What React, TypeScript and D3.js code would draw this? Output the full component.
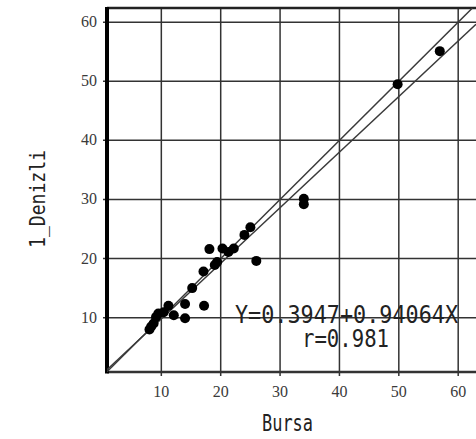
import React from "react";
import * as d3 from "d3";

// Paired observations (Bursa vs 1_Denizli)
const bursa = [8.0, 8.3, 8.7, 9.1, 9.5, 10.4, 11.2, 12.1, 14.0, 14.0, 17.2, 15.2, 17.1, 19.0, 19.4, 18.1, 20.3, 21.3, 22.2, 24.0, 25.0, 26.0, 34.0, 34.0, 49.8, 56.9];
const denizli = [8.0, 8.5, 9.0, 10.1, 10.7, 10.9, 12.0, 10.4, 9.9, 12.3, 12.0, 15.0, 17.8, 18.9, 19.4, 21.6, 21.7, 21.1, 21.7, 24.0, 25.3, 19.6, 30.1, 29.2, 49.5, 55.1];

const xTicks = [10, 20, 30, 40, 50, 60];
const yTicks = [10, 20, 30, 40, 50, 60];

const intercept = 0.3947;
const slope = 0.94064;
const equationLabel = "Y=0.3947+0.94064X";
const rLabel = "r=0.981";
const xTitle = "Bursa";
const yTitle = "1_Denizli";

const W = 476;
const H = 439;
const left = 107;
const right = 476;
const top = 8;
const bottom = 372;

export default function App() {
  const x = d3.scaleLinear().domain([0.85, 63]).range([left, right]);
  const y = d3.scaleLinear().domain([0.8, 62.4]).range([bottom, top]);
  const [x0, x1] = x.domain();

  const line = d3
    .line<[number, number]>()
    .x((d) => x(d[0]))
    .y((d) => y(d[1]));

  const identity: [number, number][] = [
    [x0, x0],
    [62.4, 62.4],
  ];
  const regression: [number, number][] = [
    [x0, intercept + slope * x0],
    [x1, intercept + slope * x1],
  ];

  const mono = "'DejaVu Sans Mono', monospace";
  const ink = "#222";

  return (
    <svg
      width={W}
      height={H}
      style={{ position: "absolute", left: 0, top: 0, background: "#fff" }}
    >
      <defs>
        <clipPath id="plot">
          <rect x={left} y={top} width={right - left} height={bottom - top} />
        </clipPath>
      </defs>

      {/* grid + ticks */}
      {xTicks.map((t) => (
        <line key={"gx" + t} x1={x(t)} x2={x(t)} y1={top} y2={bottom + 4} stroke="#333" strokeWidth={1.5} />
      ))}
      {yTicks.map((t) => (
        <line key={"gy" + t} x1={left - 4} x2={right} y1={y(t)} y2={y(t)} stroke="#333" strokeWidth={1.5} />
      ))}

      {/* frame */}
      <line x1={left} x2={right} y1={top} y2={top} stroke="#222" strokeWidth={2.5} />
      <line x1={left} x2={right} y1={bottom} y2={bottom} stroke="#333" strokeWidth={2.5} />
      <line x1={left} x2={left} y1={top - 1} y2={bottom + 1.5} stroke="#000" strokeWidth={4} />

      {/* identity and fitted lines */}
      <g clipPath="url(#plot)">
        <path d={line(identity) ?? ""} fill="none" stroke="#3a3a3a" strokeWidth={1.5} />
        <path d={line(regression) ?? ""} fill="none" stroke="#3a3a3a" strokeWidth={1.5} />
      </g>

      {/* points */}
      {bursa.map((b, i) => (
        <circle key={"p" + i} cx={x(b)} cy={y(denizli[i])} r={5} fill="#000" />
      ))}

      {/* tick labels */}
      {yTicks.map((t) => (
        <text
          key={"ly" + t}
          x={97}
          y={y(t) + 5}
          textAnchor="end"
          fontFamily="'Liberation Serif', serif"
          fontSize={16}
          fill="#3a3a3a"
        >
          {t}
        </text>
      ))}
      {xTicks.map((t) => (
        <text
          key={"lx" + t}
          x={x(t)}
          y={397}
          textAnchor="middle"
          fontFamily="'Liberation Serif', serif"
          fontSize={16}
          fill="#3a3a3a"
        >
          {t}
        </text>
      ))}

      {/* regression annotation */}
      <g transform="translate(235,322.5) scale(1,1.2)">
        <text x={0} y={0} fontFamily={mono} fontSize={21} fill={ink} textLength={223} lengthAdjust="spacingAndGlyphs">
          {equationLabel}
        </text>
      </g>
      <g transform="translate(302,346.5) scale(1,1.15)">
        <text x={0} y={0} fontFamily={mono} fontSize={21} fill={ink} textLength={87} lengthAdjust="spacingAndGlyphs">
          {rLabel}
        </text>
      </g>

      {/* axis titles */}
      <g transform="translate(262,431) scale(1,1.3)">
        <text x={0} y={0} fontFamily={mono} fontSize={17} fill={ink} textLength={51} lengthAdjust="spacingAndGlyphs">
          {xTitle}
        </text>
      </g>
      <g transform="translate(45,199) rotate(-90) scale(1,1.2)">
        <text x={0} y={0} textAnchor="middle" fontFamily={mono} fontSize={18} fill={ink} textLength={98} lengthAdjust="spacingAndGlyphs">
          {yTitle}
        </text>
      </g>
    </svg>
  );
}
